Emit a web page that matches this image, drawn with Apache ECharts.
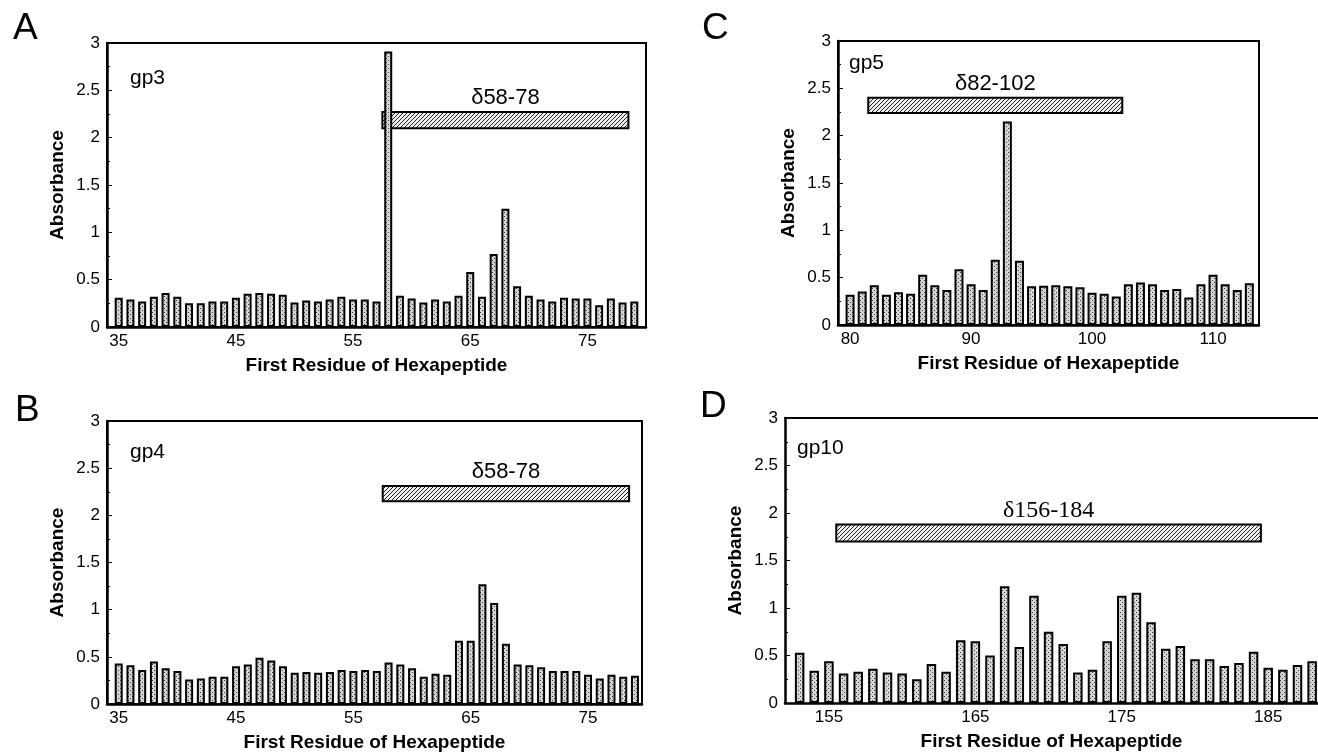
<!DOCTYPE html>
<html>
<head>
<meta charset="utf-8">
<script src="https://cdn.jsdelivr.net/npm/echarts@6/dist/echarts.min.js"></script>
<style>
  html, body { margin: 0; padding: 0; background: #fff; }
  #main { width: 1318px; height: 753px; }
</style>
</head>
<body>
<div id="main"></div>
<script>
// absorbance per hexapeptide, first residue + values
var gp3First = 35;
var gp3Abs = [0.31, 0.29, 0.27, 0.32, 0.36, 0.32, 0.25, 0.25, 0.27, 0.27,
              0.31, 0.35, 0.36, 0.35, 0.34, 0.26, 0.28, 0.27, 0.29, 0.32,
              0.29, 0.29, 0.27, 2.91, 0.33, 0.30, 0.26, 0.29, 0.27, 0.33,
              0.58, 0.32, 0.77, 1.25, 0.43, 0.33, 0.29, 0.27, 0.31, 0.30,
              0.30, 0.23, 0.30, 0.26, 0.27];

var gp4First = 35;
var gp4Abs = [0.43, 0.41, 0.36, 0.45, 0.38, 0.35, 0.26, 0.27, 0.29, 0.29,
              0.40, 0.42, 0.49, 0.46, 0.40, 0.33, 0.34, 0.33, 0.34, 0.36,
              0.35, 0.36, 0.35, 0.44, 0.42, 0.38, 0.29, 0.32, 0.31, 0.67,
              0.67, 1.27, 1.07, 0.64, 0.42, 0.41, 0.39, 0.35, 0.35, 0.35,
              0.31, 0.27, 0.31, 0.29, 0.30];

var gp5First = 80;
var gp5Abs = [0.32, 0.355, 0.42, 0.32, 0.345, 0.33, 0.53, 0.42, 0.37, 0.59,
              0.43, 0.37, 0.69, 2.15, 0.68, 0.41, 0.415, 0.42, 0.41, 0.40,
              0.34, 0.33, 0.30, 0.43, 0.45, 0.43, 0.37, 0.38, 0.29, 0.43,
              0.53, 0.43, 0.37, 0.44];

var gp10First = 153;
var gp10Abs = [0.53, 0.34, 0.44, 0.31, 0.33, 0.36, 0.32, 0.31, 0.25, 0.41,
               0.33, 0.66, 0.65, 0.50, 1.23, 0.59, 1.13, 0.75, 0.62, 0.32,
               0.35, 0.65, 1.13, 1.16, 0.85, 0.57, 0.60, 0.46, 0.46, 0.39,
               0.42, 0.54, 0.37, 0.35, 0.40, 0.44];

// deletion boxes: [from residue, to residue, low absorbance, high absorbance]
var gp3Del = [58, 78, 2.10, 2.27];
var gp4Del = [58, 78, 2.15, 2.31];
var gp5Del = [82, 102, 2.24, 2.40];
var gp10Del = [156, 184, 1.70, 1.88];

var ticks35 = [35, 45, 55, 65, 75];
var ticks80 = [80, 90, 100, 110];
var ticks155 = [155, 165, 175, 185];

var sans = 'Arial, "Liberation Sans", Helvetica, sans-serif';
var serif = '"Times New Roman", "Liberation Serif", serif';

function makeStipple() {
    var c = document.createElement('canvas');
    c.width = 4; c.height = 4;
    var g = c.getContext('2d');
    g.fillStyle = '#d6d6d6';
    g.fillRect(0, 0, 4, 4);
    g.fillStyle = '#3a3a3a';
    g.fillRect(0, 0, 1, 1);
    g.fillRect(2, 2, 1, 1);
    return c;
}

function makeHatch() {
    var c = document.createElement('canvas');
    c.width = 4; c.height = 4;
    var g = c.getContext('2d');
    g.fillStyle = '#eeeeee';
    g.fillRect(0, 0, 4, 4);
    g.strokeStyle = '#222';
    g.lineWidth = 1;
    g.beginPath();
    g.moveTo(-1, 5); g.lineTo(5, -1);
    g.moveTo(3, 5); g.lineTo(5, 3);
    g.moveTo(-1, 1); g.lineTo(1, -1);
    g.stroke();
    return c;
}

var stipple = makeStipple();
var hatch = makeHatch();

function pairs(first, vals) {
    var out = [];
    for (var i = 0; i < vals.length; i++) out.push([first + i, vals[i]]);
    return out;
}

function delBox(params, api) {
    var p1 = api.coord([api.value(0) - 0.5, api.value(3)]);
    var p2 = api.coord([api.value(1) + 0.5, api.value(2)]);
    var mid = api.coord([(api.value(0) + api.value(1)) / 2, api.value(3)]);
    var isSerif = params.seriesName == 'gp10';
    return {
        type: 'group',
        children: [{
            type: 'rect',
            shape: { x: p1[0], y: p1[1], width: p2[0] - p1[0], height: p2[1] - p1[1] },
            style: { fill: { type: 'pattern', image: hatch, repeat: 'repeat' }, stroke: '#000', lineWidth: 2 }
        }, {
            type: 'text',
            x: mid[0], y: mid[1] - 14,
            style: {
                text: '\u03b4' + api.value(0) + '-' + api.value(1),
                fill: '#000',
                font: (isSerif ? '24px ' + serif : '22px ' + sans),
                align: 'center', verticalAlign: 'middle'
            }
        }]
    };
}

var grids = [
    { left: 107, top: 43, width: 539, height: 284, box: true },
    { left: 107, top: 421, width: 535, height: 285, box: true },
    { left: 838, top: 41, width: 421, height: 284, box: true },
    { left: 785, top: 418, width: 533, height: 285, box: false }
];
var xRanges = [[34, 80], [34, 79.6], [79, 113.8], [152, 188.4]];
var xTicks = [ticks35, ticks35, ticks80, ticks155];
var barW = [8, 8, 9, 9.5];
var sets = [
    { name: 'gp3', first: gp3First, abs: gp3Abs, del: gp3Del },
    { name: 'gp4', first: gp4First, abs: gp4Abs, del: gp4Del },
    { name: 'gp5', first: gp5First, abs: gp5Abs, del: gp5Del },
    { name: 'gp10', first: gp10First, abs: gp10Abs, del: gp10Del }
];

var option = {
    animation: false,
    backgroundColor: '#fff',
    grid: [],
    xAxis: [],
    yAxis: [],
    series: [],
    graphic: []
};

grids.forEach(function(g, i) {
    option.grid.push({
        left: g.left, top: g.top, width: g.width, height: g.height,
        show: g.box, borderColor: '#000', borderWidth: 2, containLabel: false
    });
    option.xAxis.push({
        type: 'value', gridIndex: i,
        min: xRanges[i][0], max: xRanges[i][1],
        name: 'First Residue of Hexapeptide',
        nameLocation: 'middle', nameGap: 29,
        nameTextStyle: { fontFamily: sans, fontSize: 19, fontWeight: 'bold', color: '#000' },
        axisLine: { show: true, lineStyle: { color: '#000', width: 2.5 } },
        axisTick: { show: false },
        splitLine: { show: false },
        axisLabel: { customValues: xTicks[i], fontFamily: sans, fontSize: 17, color: '#000', margin: 6 }
    });
    option.yAxis.push({
        type: 'value', gridIndex: i,
        min: 0, max: 3, interval: 0.5,
        name: 'Absorbance',
        nameLocation: 'middle', nameGap: 40,
        nameTextStyle: { fontFamily: sans, fontSize: 19, fontWeight: 'bold', color: '#000' },
        axisLine: { show: true, lineStyle: { color: '#000', width: 2.5 } },
        axisTick: { show: true, inside: true, length: 5, lineStyle: { color: '#000', width: 1 } },
        minorTick: { show: true, splitNumber: 2, length: 3, lineStyle: { color: '#000', width: 1 } },
        splitLine: { show: false },
        axisLabel: { fontFamily: sans, fontSize: 17, color: '#000', margin: 7 }
    });
    var s = sets[i];
    option.series.push({
        type: 'custom', name: s.name, xAxisIndex: i, yAxisIndex: i,
        renderItem: delBox, data: [s.del], z: 1, silent: true
    });
    option.series.push({
        type: 'bar', name: s.name + ' bars', xAxisIndex: i, yAxisIndex: i,
        data: pairs(s.first, s.abs), barWidth: barW[i], z: 2,
        itemStyle: { color: { image: stipple, repeat: 'repeat' }, borderColor: '#000', borderWidth: 2 }
    });
});

// panel D frame runs off the right edge: only a top line
option.xAxis.push({
    type: 'value', gridIndex: 3, position: 'top',
    min: xRanges[3][0], max: xRanges[3][1],
    axisLine: { show: true, lineStyle: { color: '#000', width: 2 } },
    axisTick: { show: false }, axisLabel: { show: false }, splitLine: { show: false }
});

// panel letters and protein names
var letters = [['A', 13, 29], ['B', 15, 411], ['C', 702, 29], ['D', 700, 407]];
letters.forEach(function(l) {
    option.graphic.push({
        type: 'text', x: l[1], y: l[2],
        style: { text: l[0], font: '37px ' + sans, fill: '#000', verticalAlign: 'middle' }
    });
});
var tags = [['gp3', 130, 78], ['gp4', 130, 452], ['gp5', 849, 63], ['gp10', 797, 448]];
tags.forEach(function(t) {
    option.graphic.push({
        type: 'text', x: t[1], y: t[2],
        style: { text: t[0], font: '21px ' + sans, fill: '#000', verticalAlign: 'middle' }
    });
});

var chart = echarts.init(document.getElementById('main'), null, { renderer: 'canvas' });
chart.setOption(option);
</script>
</body>
</html>
